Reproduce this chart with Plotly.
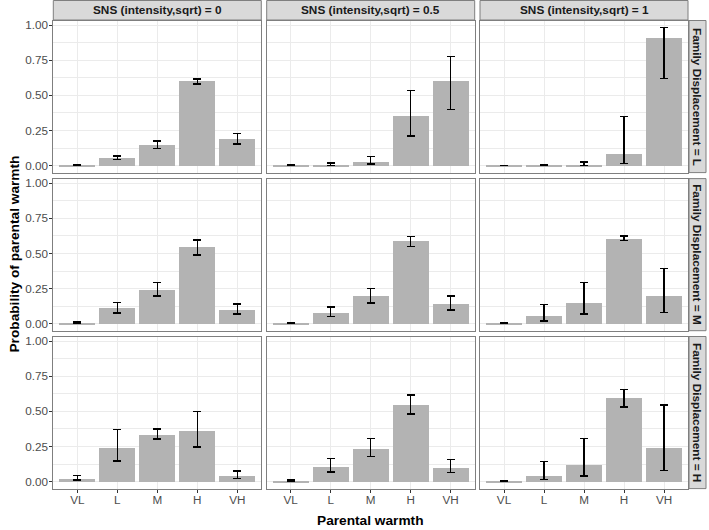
import plotly.graph_objects as go

# ---- data ----
categories = ["VL", "L", "M", "H", "VH"]
sns_labels = ["SNS (intensity,sqrt) = 0", "SNS (intensity,sqrt) = 0.5", "SNS (intensity,sqrt) = 1"]
fd_labels = ["Family Displacement = L", "Family Displacement = M", "Family Displacement = H"]
y_tick_vals = [0, 0.25, 0.5, 0.75, 1.0]
y_tick_text = ["0.00", "0.25", "0.50", "0.75", "1.00"]

# rows: family displacement L, M, H ; each row: SNS 0, 0.5, 1
prob_fd_L = [[0.005, 0.055, 0.149, 0.604, 0.190],
             [0.003, 0.010, 0.030, 0.358, 0.607],
             [0.002, 0.005, 0.007, 0.085, 0.908]]
lower_fd_L = [[0.003, 0.042, 0.122, 0.582, 0.153],
              [0.001, 0.003, 0.012, 0.211, 0.398],
              [0.001, 0.003, 0.001, 0.014, 0.620]]
upper_fd_L = [[0.007, 0.069, 0.175, 0.617, 0.229],
              [0.005, 0.018, 0.064, 0.533, 0.775],
              [0.003, 0.009, 0.026, 0.350, 0.983]]

prob_fd_M = [[0.010, 0.116, 0.246, 0.547, 0.102],
             [0.005, 0.083, 0.197, 0.590, 0.142],
             [0.005, 0.059, 0.152, 0.607, 0.197]]
lower_fd_M = [[0.007, 0.078, 0.197, 0.490, 0.069],
              [0.003, 0.052, 0.147, 0.550, 0.097],
              [0.003, 0.021, 0.069, 0.590, 0.081]]
upper_fd_M = [[0.013, 0.152, 0.294, 0.597, 0.140],
              [0.008, 0.118, 0.251, 0.621, 0.197],
              [0.010, 0.137, 0.294, 0.623, 0.393]]

prob_fd_H = [[0.026, 0.246, 0.338, 0.364, 0.043],
             [0.008, 0.109, 0.239, 0.551, 0.104],
             [0.006, 0.045, 0.123, 0.598, 0.243]]
lower_fd_H = [[0.012, 0.147, 0.303, 0.246, 0.024],
              [0.004, 0.069, 0.179, 0.480, 0.066],
              [0.004, 0.014, 0.040, 0.532, 0.078]]
upper_fd_H = [[0.045, 0.369, 0.374, 0.499, 0.076],
              [0.012, 0.163, 0.305, 0.615, 0.158],
              [0.010, 0.142, 0.307, 0.657, 0.544]]

probs = [prob_fd_L, prob_fd_M, prob_fd_H]
lowers = [lower_fd_L, lower_fd_M, lower_fd_H]
uppers = [upper_fd_L, upper_fd_M, upper_fd_H]

# ---- layout geometry (pixels) ----
W, H = 709, 530
col_px = [(53.3, 261.3), (266.7, 474.7), (480.0, 688.0)]
row_px = [(20.5, 172.6), (178.6, 330.7), (336.5, 488.6)]
strip_top = (0.5, 20.0)
strip_right = (689.0, 706.0)

def px_x(v):
    return v / W

def px_y(v):
    return 1 - v / H

FONT = "Liberation Sans, Arial, sans-serif"
BORDER = "#7F7F7F"
GRID = "#EBEBEB"

hi_max = max(max(max(r) for r in u) for u in uppers)
pad = 0.05 * hi_max
y_range = [-pad, hi_max + pad]

fig = go.Figure()
layout_axes = {}
for r in range(3):
    for c in range(3):
        k = r * 3 + c + 1
        xa = "x" if k == 1 else f"x{k}"
        ya = "y" if k == 1 else f"y{k}"
        p = probs[r][c]
        lo = lowers[r][c]
        hi = uppers[r][c]
        fig.add_trace(go.Bar(
            x=categories, y=p, xaxis=xa, yaxis=ya, width=0.9,
            marker=dict(color="#B3B3B3", line=dict(width=0)),
            error_y=dict(type="data", symmetric=False,
                         array=[h - v for h, v in zip(hi, p)],
                         arrayminus=[v - l for v, l in zip(p, lo)],
                         color="#000000", thickness=1.4, width=4),
            showlegend=False, hoverinfo="skip"))
        x0, x1 = col_px[c]
        y0, y1 = row_px[r]
        xkey = "xaxis" if k == 1 else f"xaxis{k}"
        ykey = "yaxis" if k == 1 else f"yaxis{k}"
        layout_axes[xkey] = dict(
            domain=[px_x(x0), px_x(x1)], anchor=ya, automargin=False,
            type="category", categoryorder="array", categoryarray=categories,
            range=[-0.6, 4.6],
            showgrid=True, gridcolor=GRID, gridwidth=1.1,
            showline=True, mirror=True, linecolor=BORDER, linewidth=1,
            ticks="outside" if r == 2 else "", ticklen=3, tickcolor="#333333",
            showticklabels=(r == 2), ticklabelstandoff=-3,
            tickfont=dict(family=FONT, size=11.7, color="#4D4D4D"),
            zeroline=False, fixedrange=True)
        layout_axes[ykey] = dict(
            domain=[px_y(y1), px_y(y0)], anchor=xa, automargin=False,
            range=y_range, tickvals=y_tick_vals, ticktext=y_tick_text,
            showgrid=True, gridcolor=GRID, gridwidth=1.1,
            minor=dict(tickvals=[0.125, 0.375, 0.625, 0.875], showgrid=True,
                       gridcolor=GRID, gridwidth=0.55, ticks=""),
            showline=True, mirror=True, linecolor=BORDER, linewidth=1,
            ticks="outside" if c == 0 else "", ticklen=3, tickcolor="#333333",
            showticklabels=(c == 0), ticklabelstandoff=-1,
            tickfont=dict(family=FONT, size=11.7, color="#4D4D4D"),
            zeroline=False, fixedrange=True)

shapes = []
annotations = []
# top strips
for c in range(3):
    x0, x1 = col_px[c]
    shapes.append(dict(type="rect", xref="paper", yref="paper",
                       x0=px_x(x0), x1=px_x(x1), y0=px_y(strip_top[1]), y1=px_y(strip_top[0]),
                       fillcolor="#D9D9D9", line=dict(color=BORDER, width=1), layer="below"))
    annotations.append(dict(text=f"<b>{sns_labels[c]}</b>", xref="paper", yref="paper",
                            x=px_x((x0 + x1) / 2), y=px_y((strip_top[0] + strip_top[1]) / 2),
                            showarrow=False, xanchor="center", yanchor="middle",
                            font=dict(family=FONT, size=11.8, color="#1A1A1A")))
# right strips
for r in range(3):
    y0, y1 = row_px[r]
    shapes.append(dict(type="rect", xref="paper", yref="paper",
                       x0=px_x(strip_right[0]), x1=px_x(strip_right[1]), y0=px_y(y1), y1=px_y(y0),
                       fillcolor="#D9D9D9", line=dict(color=BORDER, width=1), layer="below"))
    annotations.append(dict(text=f"<b>{fd_labels[r]}</b>", xref="paper", yref="paper",
                            x=px_x((strip_right[0] + strip_right[1]) / 2), y=px_y((y0 + y1) / 2),
                            showarrow=False, xanchor="center", yanchor="middle", textangle=90,
                            font=dict(family=FONT, size=11.8, color="#1A1A1A")))
# axis titles
annotations.append(dict(text="<b>Parental warmth</b>", xref="paper", yref="paper",
                        x=px_x((col_px[0][0] + col_px[2][1]) / 2), y=px_y(520),
                        showarrow=False, xanchor="center", yanchor="middle",
                        font=dict(family=FONT, size=13.7, color="#000000")))
annotations.append(dict(text="<b>Probability of parental warmth</b>", xref="paper", yref="paper",
                        x=px_x(15), y=px_y((row_px[0][0] + row_px[2][1]) / 2),
                        showarrow=False, xanchor="center", yanchor="middle", textangle=-90,
                        font=dict(family=FONT, size=13.7, color="#000000")))

fig.update_layout(
    width=W, height=H, margin=dict(l=0, r=0, t=0, b=0, autoexpand=False),
    paper_bgcolor="white", plot_bgcolor="white",
    bargap=0, shapes=shapes, annotations=annotations,
    **layout_axes)

fig.write_html("out.html", config={"displayModeBar": False},
               post_script="document.body.style.margin='0';document.body.style.padding='0';")
